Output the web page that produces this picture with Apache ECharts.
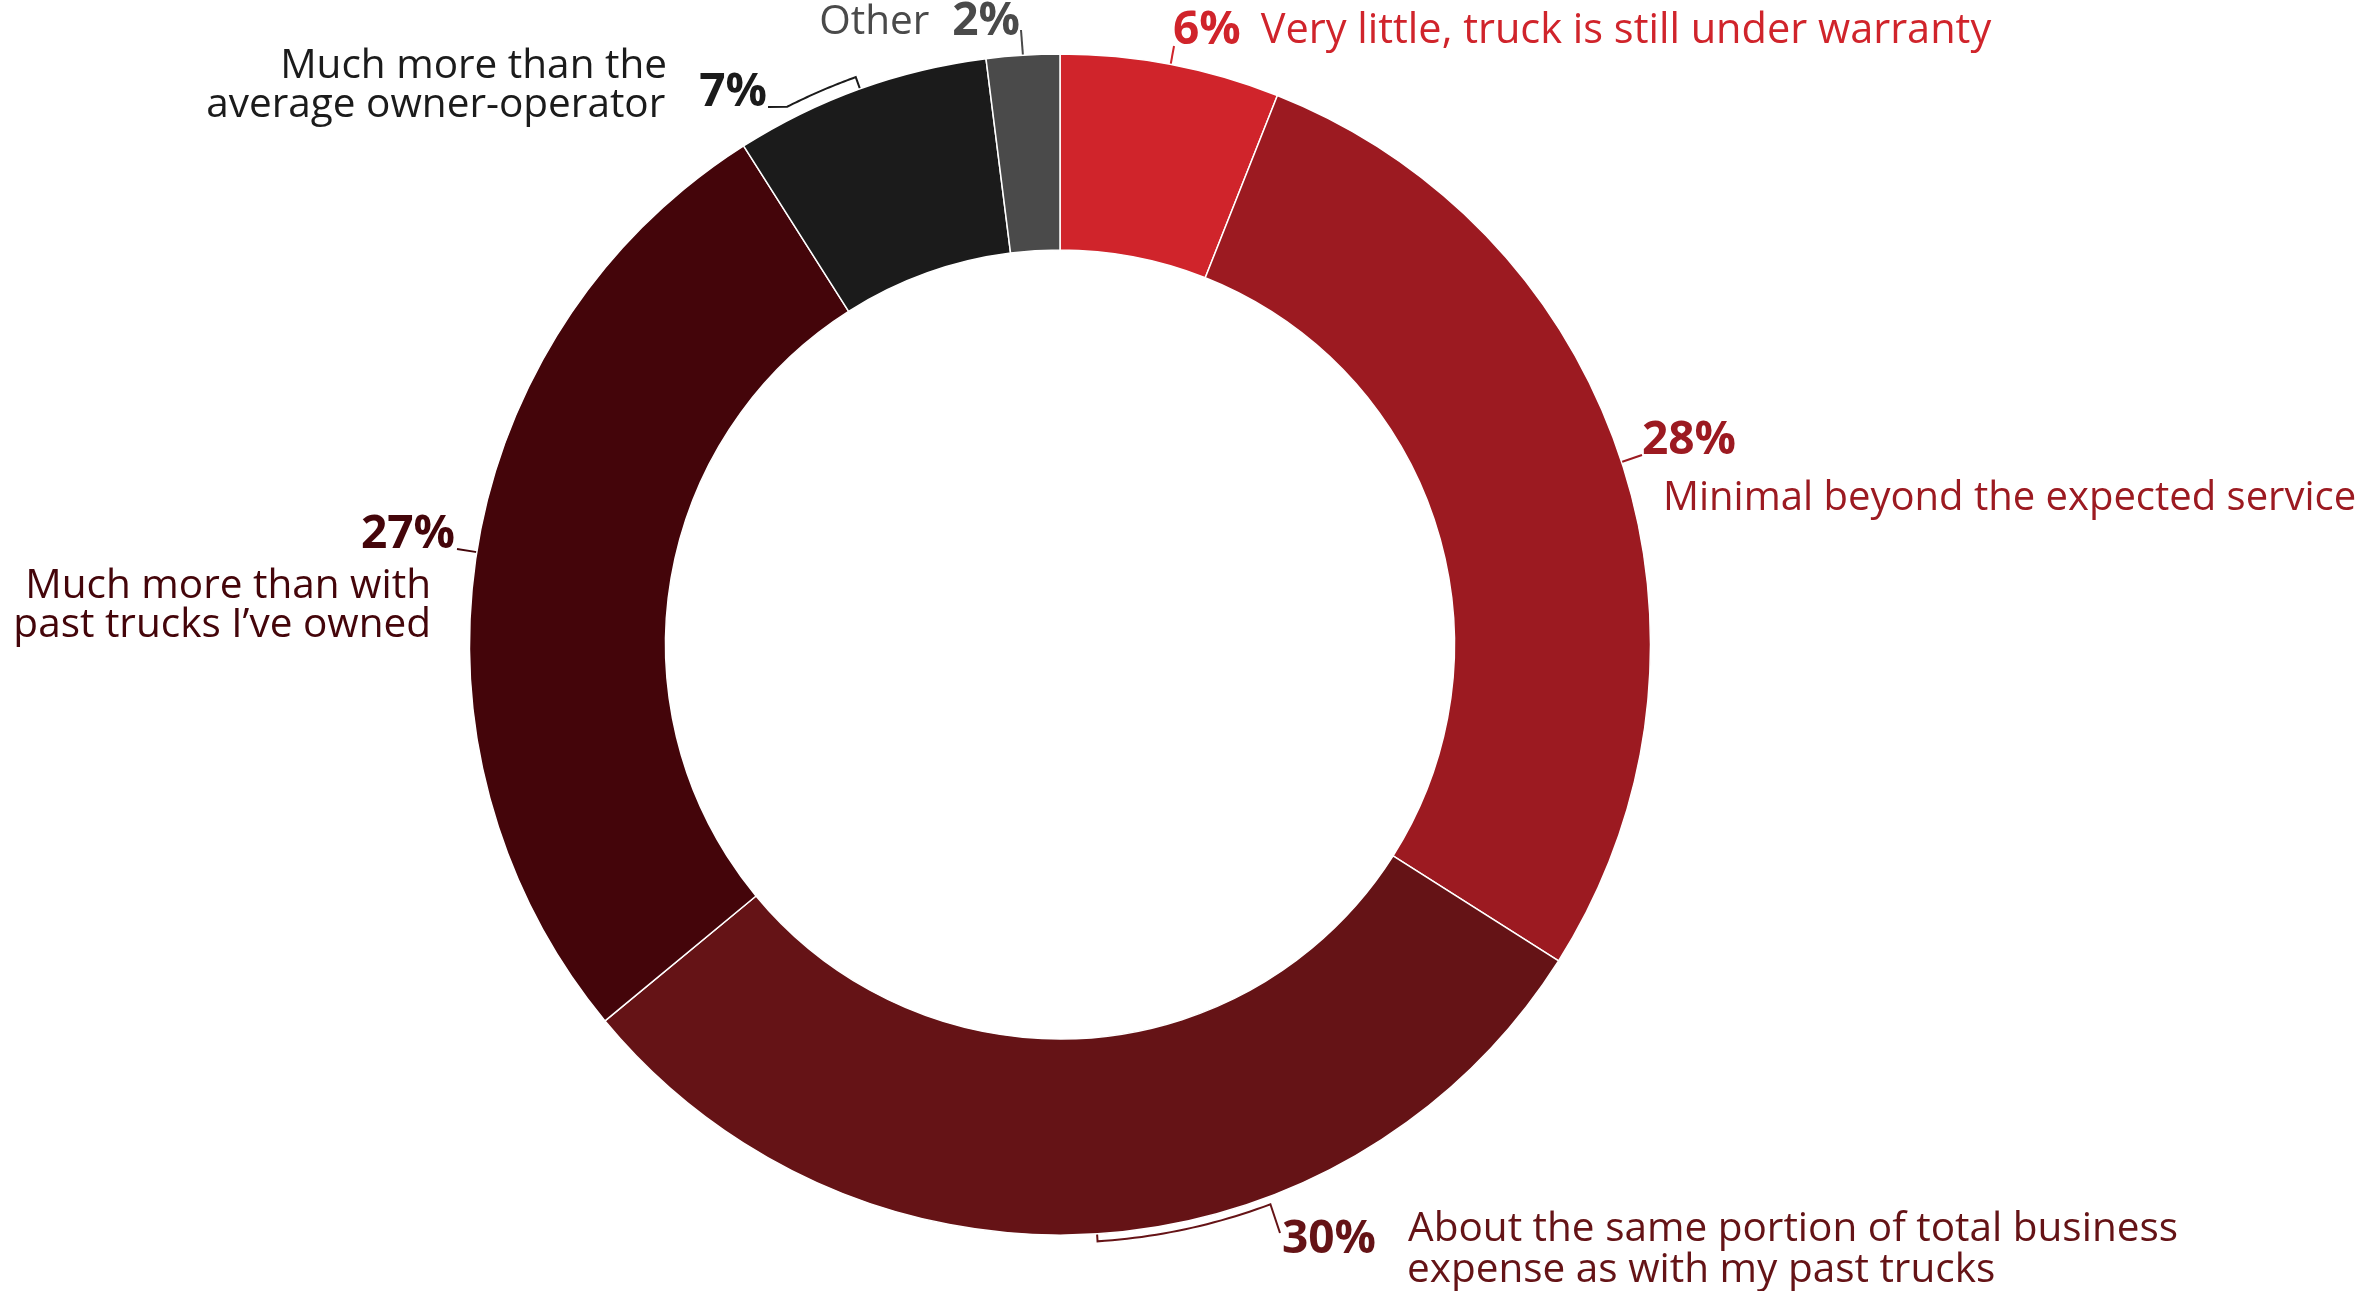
<!DOCTYPE html>
<html>
<head>
<meta charset="utf-8">
<script src="https://cdn.jsdelivr.net/npm/echarts@6/dist/echarts.min.js"></script>
<style>
  html, body { margin: 0; padding: 0; background: #ffffff; }
  #chart { width: 2362px; height: 1291px; }
</style>
</head>
<body>
<div id="chart"></div>
<script>
// Survey answers, clockwise from 12 o'clock
const categories = [
  'Very little, truck is still under warranty',
  'Minimal beyond the expected service',
  'About the same portion of total business\nexpense as with my past trucks',
  'Much more than with\npast trucks I’ve owned',
  'Much more than the\naverage owner-operator',
  'Other'
];
const shares = [6, 28, 30, 27, 7, 2];
const sliceColors = ['#d0242b', '#9c1a21', '#651316', '#44050a', '#1b1b1b', '#4a4a4a'];

// Ring geometry (px)
const CX = 1060, CY = 644.5, R_IN = 394.5, R_OUT = 590.5;
const FONT = '"Open Sans"';

// Where each label box sits
const labelSpots = [
  { x: 1173, y: 31,     align: 'left',  verticalAlign: 'middle' },
  { x: 1642, y: 412,    align: 'left',  verticalAlign: 'top' },
  { x: 1282, y: 1208.5, align: 'left',  verticalAlign: 'top' },
  { x: 455,  y: 503.5,  align: 'right', verticalAlign: 'top' },
  { x: 767,  y: 46.5,   align: 'right', verticalAlign: 'top' },
  { x: 1020, y: 22,     align: 'right', verticalAlign: 'middle' }
];
// Leader lines: optional bracket running along the ring (radius, end angle
// in degrees clockwise from 12 o'clock), then the point touching the label
const leaders = [
  { end: [1174, 46] },
  { end: [1642, 455] },
  { arc: { r: 598, to: 159.4 }, end: [1280, 1233] },
  { end: [457, 549] },
  { arc: { r: 603, to: 333.1 }, end: [768, 107] },
  { end: [1021, 30] }
];

function polar(r, deg) {
  const a = deg * Math.PI / 180;
  return [CX + r * Math.sin(a), CY - r * Math.cos(a)];
}

function midAngle(i) {
  const total = shares.reduce((a, b) => a + b, 0);
  let before = 0;
  for (let k = 0; k < i; k++) before += shares[k];
  return (before + shares[i] / 2) / total * 360;
}

function leaderPoints(i, libPoints) {
  const start = libPoints && libPoints[0] ? libPoints[0].slice() : polar(R_OUT, midAngle(i));
  const pts = [start];
  const spec = leaders[i];
  if (spec.arc) {
    let a0 = Math.atan2(start[0] - CX, CY - start[1]) * 180 / Math.PI;
    if (a0 < 0) a0 += 360;
    const steps = 24;
    for (let s = 0; s <= steps; s++) {
      pts.push(polar(spec.arc.r, a0 + (spec.arc.to - a0) * s / steps));
    }
  }
  pts.push(spec.end);
  return pts;
}

function makeRich(c) {
  const pct = { fontFamily: FONT, fontWeight: 'bold', fontSize: 46, color: c };
  const txt = { fontFamily: FONT, fontWeight: 'normal', fontSize: 40.5, color: c };
  return {
    p0:  Object.assign({}, pct, { lineHeight: 50 }),
    t0:  Object.assign({}, txt, { fontSize: 41.5, lineHeight: 50, padding: [0, 0, 0, 20] }),
    p1:  Object.assign({}, pct, { lineHeight: 58 }),
    t1:  Object.assign({}, txt, { fontSize: 40, lineHeight: 58, padding: [0, 0, 0, 21] }),
    p2:  Object.assign({}, pct, { lineHeight: 41, padding: [11, 0, -11, 0] }),
    t2a: Object.assign({}, txt, { lineHeight: 41, padding: [0, 0, 0, 32] }),
    t2b: Object.assign({}, txt, { lineHeight: 41, padding: [0, 0, 0, 125] }),
    p3:  Object.assign({}, pct, { lineHeight: 63 }),
    t3:  Object.assign({}, txt, { lineHeight: 39, padding: [0, 24, 0, 0] }),
    t4a: Object.assign({}, txt, { lineHeight: 39, padding: [0, 100, 0, 0] }),
    t4b: Object.assign({}, txt, { lineHeight: 39 }),
    p4:  Object.assign({}, pct, { lineHeight: 39, padding: [-12, 0, 12, 34] }),
    t5:  Object.assign({}, txt, { lineHeight: 50 }),
    p5:  Object.assign({}, pct, { lineHeight: 50, padding: [0, 0, 0, 23] })
  };
}

function labelText(i) {
  const p = shares[i] + '%';
  const l = categories[i].split('\n');
  switch (i) {
    case 0: return '{p0|' + p + '}{t0|' + l[0] + '}';
    case 1: return '{p1|' + p + '}\n{t1|' + l[0] + '}';
    case 2: return '{p2|' + p + '}{t2a|' + l[0] + '}\n{t2b|' + l[1] + '}';
    case 3: return '{p3|' + p + '}\n{t3|' + l[0] + '}\n{t3|' + l[1] + '}';
    case 4: return '{t4a|' + l[0] + '}\n{t4b|' + l[1] + '}{p4|' + p + '}';
    default: return '{t5|' + l[0] + '}{p5|' + p + '}';
  }
}

const data = shares.map((v, i) => ({
  value: v,
  name: categories[i],
  itemStyle: { color: sliceColors[i] },
  label: { color: sliceColors[i], rich: makeRich(sliceColors[i]) },
  labelLine: { lineStyle: { color: sliceColors[i] } }
}));

const chart = echarts.init(document.getElementById('chart'), null, { renderer: 'canvas' });
chart.setOption({
  backgroundColor: '#ffffff',
  animation: false,
  series: [{
    type: 'pie',
    center: [CX, CY],
    radius: [R_IN, R_OUT],
    startAngle: 90,
    clockwise: true,
    avoidLabelOverlap: false,
    silent: true,
    itemStyle: { borderColor: '#ffffff', borderWidth: 1.5 },
    label: {
      show: true,
      position: 'outside',
      overflow: 'none',
      formatter: params => labelText(params.dataIndex)
    },
    labelLine: { show: true, length: 12, length2: 12, smooth: false, lineStyle: { width: 2 } },
    labelLayout: params => {
      const i = params.dataIndex;
      const s = labelSpots[i];
      return {
        x: s.x,
        y: s.y,
        align: s.align,
        verticalAlign: s.verticalAlign,
        labelLinePoints: leaderPoints(i, params.labelLinePoints)
      };
    },
    data: data
  }]
});
</script>
</body>
</html>
